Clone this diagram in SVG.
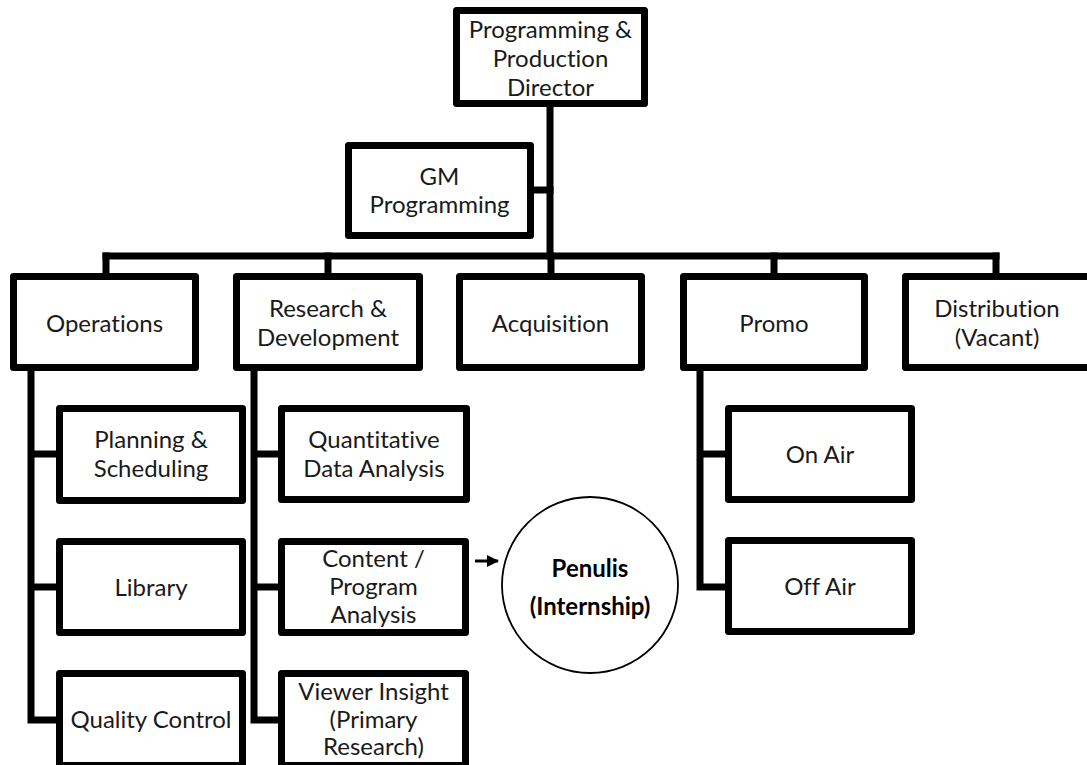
<svg xmlns="http://www.w3.org/2000/svg" width="1087" height="765" viewBox="0 0 1087 765">
<style>
.box{fill:#fff;stroke:#000;stroke-width:7;stroke-linejoin:round}
.ln{fill:none;stroke:#000;stroke-width:7;stroke-linecap:square;stroke-linejoin:miter}
.t{font-family:Lato,"Open Sans",sans-serif;font-size:24px;fill:#1a1a1a;text-anchor:middle;font-variant-ligatures:none}
.b{font-family:Lato,"Open Sans",sans-serif;font-size:24px;font-weight:bold;fill:#000;text-anchor:middle;font-variant-ligatures:none}
</style>
<defs>
<marker id="ah" markerWidth="12" markerHeight="12" refX="11" refY="6" orient="auto" markerUnits="userSpaceOnUse">
<path d="M0,0 L12,6 L0,12 Z" fill="#000"/>
</marker>
</defs>
<rect width="1087" height="765" fill="#fff"/>
<g id="connectors">
<path class="ln" d="M550,107 V256"/>
<path class="ln" d="M534,190 H550"/>
<path class="ln" d="M106,256 H996"/>
<path class="ln" d="M106,256 V273 M328,256 V273 M551,256 V273 M774,256 V273 M996,256 V273"/>
<path class="ln" d="M31,371 V720 H56 M31,454 H56 M31,587 H56"/>
<path class="ln" d="M254,371 V720 H278 M254,454 H278 M254,587 H278"/>
<path class="ln" d="M700,371 V587 H725 M700,454 H725"/>
<path d="M475,561 H498" stroke="#000" stroke-width="3" marker-end="url(#ah)"/>
</g>
<g id="director">
<rect class="box" x="456.5" y="10.5" width="188" height="93"/>
<text class="t" x="550.5" y="38">Programming &amp;</text>
<text class="t" x="550.5" y="67">Production</text>
<text class="t" x="550.5" y="96">Director</text>
</g>
<g id="gm">
<rect class="box" x="348.5" y="145.5" width="182" height="90"/>
<text class="t" x="439.5" y="185">GM</text>
<text class="t" x="439.5" y="213">Programming</text>
</g>
<g id="operations">
<rect class="box" x="13.5" y="276.5" width="182" height="91"/>
<text class="t" x="104.5" y="332">Operations</text>
</g>
<g id="research">
<rect class="box" x="236.5" y="276.5" width="183" height="91"/>
<text class="t" x="328" y="317">Research &amp;</text>
<text class="t" x="328" y="346">Development</text>
</g>
<g id="acquisition">
<rect class="box" x="459.5" y="276.5" width="182" height="91"/>
<text class="t" x="550.5" y="332">Acquisition</text>
</g>
<g id="promo">
<rect class="box" x="683.5" y="276.5" width="181" height="91"/>
<text class="t" x="774" y="332">Promo</text>
</g>
<g id="distribution">
<rect class="box" x="905.5" y="276.5" width="186" height="91"/>
<text class="t" x="997" y="317">Distribution</text>
<text class="t" x="997" y="346">(Vacant)</text>
</g>
<g id="planning">
<rect class="box" x="59.5" y="408.5" width="183" height="92"/>
<text class="t" x="151" y="448">Planning &amp;</text>
<text class="t" x="151" y="477">Scheduling</text>
</g>
<g id="library">
<rect class="box" x="59.5" y="541.5" width="183" height="91"/>
<text class="t" x="151" y="596">Library</text>
</g>
<g id="quality">
<rect class="box" x="59.5" y="673.5" width="183" height="92"/>
<text class="t" x="151" y="728">Quality Control</text>
</g>
<g id="quantitative">
<rect class="box" x="281.5" y="408.5" width="185" height="91"/>
<text class="t" x="374" y="448">Quantitative</text>
<text class="t" x="374" y="477">Data Analysis</text>
</g>
<g id="content">
<rect class="box" x="281.5" y="541.5" width="184" height="91"/>
<text class="t" x="373.5" y="567">Content /</text>
<text class="t" x="373.5" y="595">Program</text>
<text class="t" x="373.5" y="623">Analysis</text>
</g>
<g id="viewer">
<rect class="box" x="281.5" y="673.5" width="184" height="92"/>
<text class="t" x="373.5" y="700">Viewer Insight</text>
<text class="t" x="373.5" y="728">(Primary</text>
<text class="t" x="373.5" y="755">Research)</text>
</g>
<g id="onair">
<rect class="box" x="728.5" y="408.5" width="183" height="91"/>
<text class="t" x="820" y="463">On Air</text>
</g>
<g id="offair">
<rect class="box" x="728.5" y="540.5" width="183" height="91"/>
<text class="t" x="820" y="595">Off Air</text>
</g>
<g id="penulis">
<circle cx="590" cy="585" r="88" fill="#fff" stroke="#000" stroke-width="1.8"/>
<text class="b" x="590" y="577">Penulis</text>
<text class="b" x="590" y="615">(Internship)</text>
</g>
</svg>
